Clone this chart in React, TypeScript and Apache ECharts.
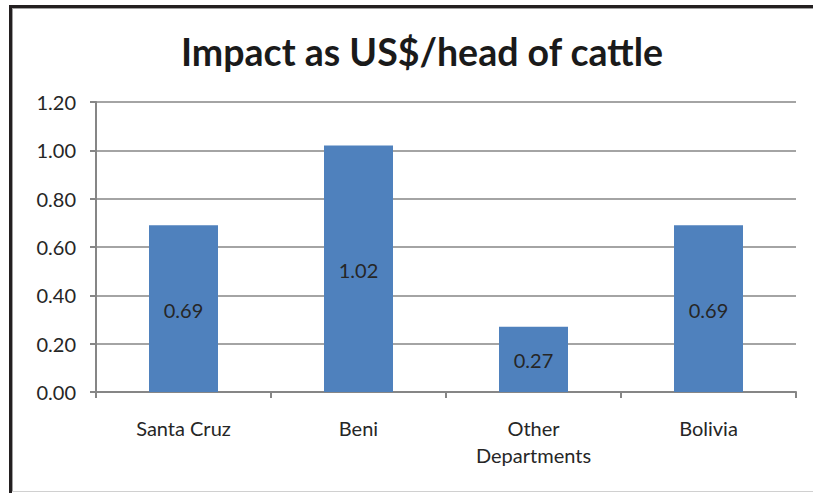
import React, { useEffect, useRef } from "react";
import * as echarts from "echarts";

const categories = ["Santa Cruz", "Beni", "Other\nDepartments", "Bolivia"];
const values = [0.69, 1.02, 0.27, 0.69];
const titleText = "Impact as US$/head of cattle";

const FONT = "Lato, 'Open Sans', sans-serif";

export default function App() {
  const ref = useRef<HTMLDivElement>(null);
  useEffect(() => {
    if (!ref.current) return;
    const chart = echarts.init(ref.current, null, { renderer: "svg" });
    chart.setOption({
      animation: false,
      backgroundColor: "transparent",
      title: {
        text: titleText,
        top: 27,
        left: 417,
        textAlign: "center",
        textStyle: { fontFamily: FONT, fontSize: 37.5, fontWeight: "bold", color: "#1a1a1a" },
      },
      grid: { left: 96, right: 17, top: 102, bottom: 101 },
      xAxis: {
        type: "category",
        data: categories,
        axisLine: { lineStyle: { color: "#868686", width: 2 } },
        axisTick: { show: true, length: 6, alignWithLabel: false, lineStyle: { color: "#868686", width: 2 } },
        axisLabel: { fontFamily: FONT, fontSize: 20, color: "#262626", margin: 22, lineHeight: 27, interval: 0 },
      },
      yAxis: {
        type: "value",
        min: 0,
        max: 1.2,
        interval: 0.2,
        axisLine: { show: true, lineStyle: { color: "#868686", width: 2 } },
        axisTick: { show: true, length: 6, lineStyle: { color: "#868686", width: 2 } },
        splitLine: { lineStyle: { color: "#868686", width: 1.5 } },
        axisLabel: {
          fontFamily: FONT,
          fontSize: 20,
          color: "#262626",
          margin: 20,
          formatter: (v: number) => v.toFixed(2),
        },
      },
      series: [
        {
          type: "bar",
          data: values,
          barWidth: 69,
          itemStyle: { color: "#4F81BD" },
          label: {
            show: true,
            position: "inside",
            offset: [0, 1],
            fontFamily: FONT,
            fontSize: 20,
            color: "#262626",
            formatter: (p: any) => p.value.toFixed(2),
          },
        },
      ],
    });
    return () => chart.dispose();
  }, []);

  return (
    <div style={{ position: "fixed", left: 0, top: 0, width: 813, height: 493, background: "#fff" }}>
      <div style={{ position: "absolute", left: 9, top: 5, width: 804, height: 3, background: "#231f20" }} />
      <div style={{ position: "absolute", left: 9, top: 5, width: 3, height: 488, background: "#231f20" }} />
      <div style={{ position: "absolute", left: 12, top: 8, width: 801, height: 1, background: "#a0a0a0" }} />
      <div style={{ position: "absolute", left: 12, top: 8, width: 1, height: 484, background: "#a0a0a0" }} />
      <div style={{ position: "absolute", left: 12, top: 491, width: 801, height: 1, background: "#d0d0d0" }} />
      <div ref={ref} style={{ position: "absolute", left: 0, top: 0, width: 813, height: 493 }} />
    </div>
  );
}
